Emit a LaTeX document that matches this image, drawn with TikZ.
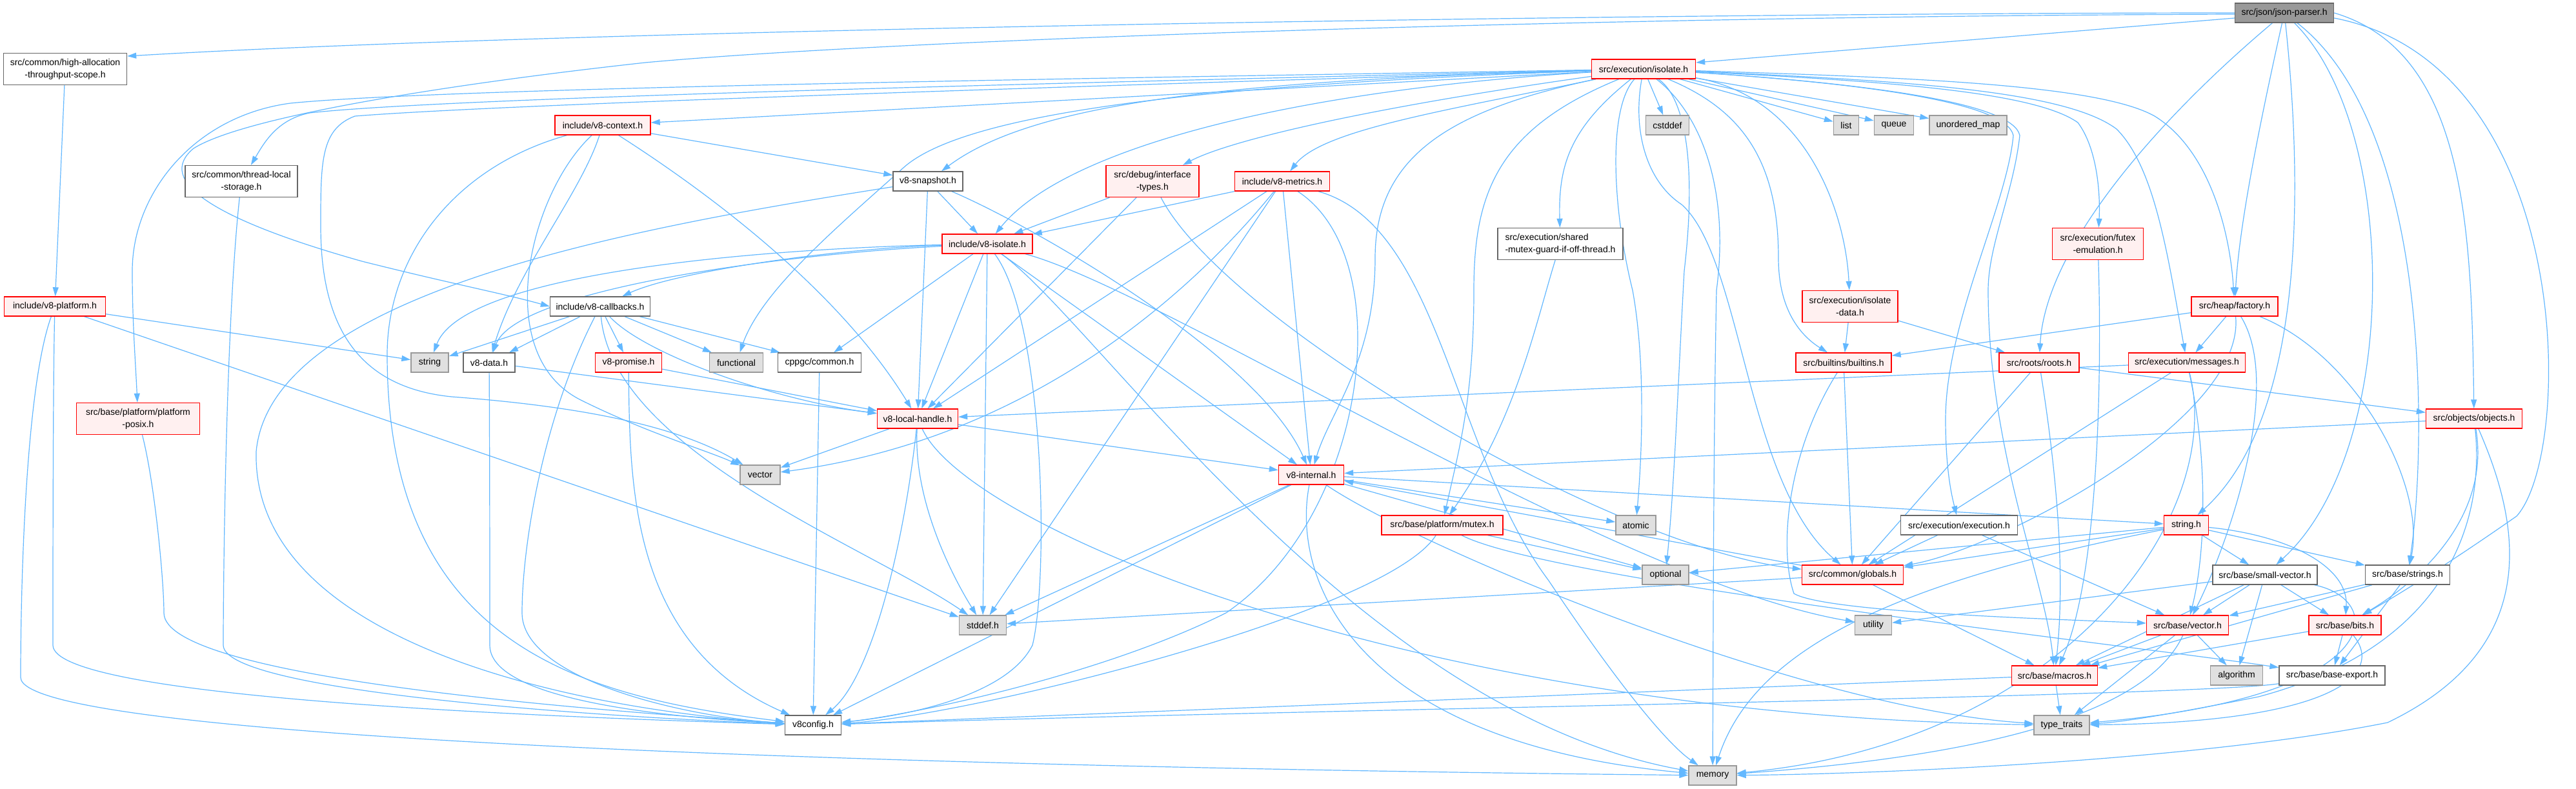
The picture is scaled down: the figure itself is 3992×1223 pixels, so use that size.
\documentclass[tikz,border=0pt]{standalone}
\usepackage{fontspec}
\setmainfont{Liberation Sans}
\usetikzlibrary{arrows.meta}
\definecolor{edgec}{HTML}{63B8FF}
\definecolor{redfill}{HTML}{FFF0F0}
\definecolor{redline}{HTML}{FF0000}
\definecolor{grayfill}{HTML}{E0E0E0}
\definecolor{grayline}{HTML}{999999}
\definecolor{whiteline}{HTML}{666666}
\definecolor{rootfill}{HTML}{999999}
\pgfdeclarelayer{bg}
\pgfdeclarelayer{edges}
\pgfsetlayers{bg,edges,main}
\tikzset{
  box/.style={draw, line width=1.4pt, inner sep=0pt, minimum height=30pt, font=\fontsize{14}{19}\selectfont, align=center},
  redn/.style={box, fill=redfill, draw=redline},
  grayn/.style={box, fill=grayfill, draw=grayline},
  whiten/.style={box, fill=white, draw=whiteline},
  rootn/.style={box, fill=rootfill, draw=whiteline},
  tall/.style={minimum height=49pt},
  e/.style={draw=edgec, line width=1.2pt, -{Triangle[length=14pt,width=9pt]}},
}
\begin{document}
\begin{tikzpicture}[x=1pt,y=-1pt]
\useasboundingbox (0,0) rectangle (3992,1223);
\begin{pgfonlayer}{bg}
\fill[white] (0,0) rectangle (3992,1223);
\end{pgfonlayer}
% nodes
\node[rootn, minimum width=153pt] (jp) at (3540,20) {src/json/json-parser.h};
\node[whiten, tall, minimum width=191pt] (hat) at (101,107) {src/common/high-allocation\\-throughput-scope.h};
\node[redn, minimum width=161pt] (iso) at (2547,107) {src/execution/isolate.h};
\node[redn, minimum width=148pt] (ctx) at (934,194) {include/v8-context.h};
\node[grayn, minimum width=67pt] (cstddef) at (2584,194) {cstddef};
\node[grayn, minimum width=39pt] (list) at (2861,194) {list};
\node[grayn, minimum width=61pt] (queue) at (2935,194) {queue};
\node[grayn, minimum width=120pt] (umap) at (3050,194) {unordered\_map};
\node[whiten, tall, minimum width=174pt] (tls) at (374,281) {src/common/thread-local\\-storage.h};
\node[whiten, minimum width=108pt] (snap) at (1438,281) {v8-snapshot.h};
\node[redn, tall, minimum width=144pt] (dbg) at (1786,281) {src/debug/interface\\-types.h};
\node[redn, minimum width=147pt] (met) at (1987,281) {include/v8-metrics.h};
\node[redn, minimum width=140pt] (viso) at (1530,378) {include/v8-isolate.h};
\node[whiten, tall, minimum width=194pt, align=left] (smg) at (2418,378) {src/execution/shared\\-mutex-guard-if-off-thread.h};
\node[redn, tall, minimum width=141pt] (futex) at (3251,378) {src/execution/futex\\-emulation.h};
\node[redn, minimum width=157pt] (plat) at (85,475) {include/v8-platform.h};
\node[whiten, minimum width=155pt] (cb) at (930,475) {include/v8-callbacks.h};
\node[redn, tall, minimum width=148pt] (isod) at (2867,475) {src/execution/isolate\\-data.h};
\node[redn, minimum width=134pt] (fac) at (3463,475) {src/heap/factory.h};
\node[grayn, minimum width=58pt] (string) at (666,562) {string};
\node[whiten, minimum width=80pt] (data) at (758,562) {v8-data.h};
\node[redn, minimum width=103pt] (prom) at (974,562) {v8-promise.h};
\node[grayn, minimum width=83pt] (func) at (1141,562) {functional};
\node[whiten, minimum width=129pt] (cppgc) at (1270,562) {cppgc/common.h};
\node[redn, minimum width=148pt] (blt) at (2857,562) {src/builtins/builtins.h};
\node[redn, minimum width=124pt] (roots) at (3160,562) {src/roots/roots.h};
\node[redn, minimum width=181pt] (msg) at (3389,562) {src/execution/messages.h};
\node[redn, tall, minimum width=191pt] (posix) at (214,649) {src/base/platform/platform\\-posix.h};
\node[redn, minimum width=125pt] (lh) at (1422,649) {v8-local-handle.h};
\node[redn, minimum width=149pt] (obj) at (3834,649) {src/objects/objects.h};
\node[grayn, minimum width=62pt] (vector) at (1178,736) {vector};
\node[redn, minimum width=101pt] (vi) at (2032,736) {v8-internal.h};
\node[redn, minimum width=188pt] (mutex) at (2235,814) {src/base/platform/mutex.h};
\node[grayn, minimum width=62pt] (atomic) at (2535,814) {atomic};
\node[whiten, minimum width=181pt] (exec) at (3036,814) {src/execution/execution.h};
\node[redn, minimum width=69pt] (strh) at (3388,814) {string.h};
\node[grayn, minimum width=72pt] (optional) at (2581,891) {optional};
\node[redn, minimum width=157pt] (glob) at (2871,891) {src/common/globals.h};
\node[whiten, minimum width=162pt] (sv) at (3510,891) {src/base/small-vector.h};
\node[whiten, minimum width=131pt] (strs) at (3731,891) {src/base/strings.h};
\node[grayn, minimum width=73pt] (stddef) at (1523,969) {stddef.h};
\node[grayn, minimum width=57pt] (utility) at (2903,969) {utility};
\node[redn, minimum width=127pt] (bvec) at (3390,969) {src/base/vector.h};
\node[redn, minimum width=112pt] (bits) at (3634,969) {src/base/bits.h};
\node[redn, minimum width=133pt] (mac) at (3184,1047) {src/base/macros.h};
\node[grayn, minimum width=81pt] (algo) at (3466,1047) {algorithm};
\node[whiten, minimum width=164pt] (bexp) at (3614,1047) {src/base/base-export.h};
\node[whiten, minimum width=87pt] (cfg) at (1260,1124) {v8config.h};
\node[grayn, minimum width=86pt] (tt) at (3195,1124) {type\_traits};
\node[grayn, minimum width=74pt] (mem) at (2654,1202) {memory};
\begin{pgfonlayer}{edges}
% edges from json-parser
\draw[e] (jp.west) .. controls (2600,20) and (900,45) .. ([yshift=20pt]hat.east);
\draw[e] ([yshift=-2pt]jp.west) .. controls (2500,25) and (1400,60) .. (1000,97) .. controls (700,130) and (380,180) .. (300,230) .. controls (240,280) and (330,340) .. (561,405) .. controls (700,440) and (780,455) .. (cb.west);
\draw[e] ([yshift=-8pt]jp.west) -- ([yshift=10pt]iso.east);
\draw[e] (jp) .. controls (3350,180) and (3170,380) .. (roots);
\draw[e] (jp) .. controls (3500,200) and (3470,350) .. (fac);
\draw[e] (jp) .. controls (3570,300) and (3570,650) .. (strh);
\draw[e] (jp) .. controls (3720,200) and (3720,700) .. (sv);
\draw[e] (jp) .. controls (3770,200) and (3760,700) .. (strs);
\draw[e] (jp.east) .. controls (3820,80) and (3830,350) .. (obj);
\draw[e] ([yshift=-8pt]jp.east) .. controls (3990,100) and (3990,700) .. (3900,800) .. controls (3800,870) and (3720,920) .. (bits);
% edges from isolate.h
\draw[e] (iso) -- (ctx);
\draw[e] (iso) .. controls (1800,125) and (700,150) .. (480,175) .. controls (430,185) and (410,220) .. (tls);
\draw[e] (iso) .. controls (1800,120) and (700,135) .. (450,160) .. controls (300,180) and (205,300) .. (205,420) .. controls (205,500) and (210,560) .. (posix);
\draw[e] (iso) .. controls (1800,130) and (800,160) .. (550,180) .. controls (497,200) and (497,250) .. (497,350) .. controls (497,500) and (550,600) .. (700,615) .. controls (900,630) and (1050,660) .. (vector);
\draw[e] (iso) .. controls (1900,125) and (1600,160) .. (snap);
\draw[e] (iso) .. controls (1900,130) and (1500,170) .. (1400,260) .. controls (1300,350) and (1180,450) .. (func);
\draw[e] (iso) .. controls (2000,140) and (1650,230) .. (viso);
\draw[e] (iso) .. controls (2100,170) and (1900,220) .. (dbg);
\draw[e] (iso) .. controls (2250,170) and (2050,200) .. (met);
\draw[e] (iso) .. controls (2430,200) and (2415,260) .. (smg);
\draw[e] (iso) .. controls (2250,170) and (2131,240) .. (2131,400) .. controls (2131,560) and (2060,640) .. (vi);
\draw[e] (iso) .. controls (2320,200) and (2284,300) .. (2284,450) .. controls (2284,620) and (2260,700) .. (mutex);
\draw[e] (iso) .. controls (2490,170) and (2500,330) .. (2530,450) .. controls (2550,560) and (2545,700) .. (atomic);
\draw[e] (iso) .. controls (2530,200) and (2550,280) .. (2606,317) .. controls (2700,400) and (2705,750) .. (glob);
\draw[e] (iso) .. controls (2610,150) and (2630,250) .. (2610,420) .. controls (2600,600) and (2595,750) .. (optional);
\draw[e] (iso) .. controls (2640,180) and (2680,300) .. (2660,450) .. controls (2655,700) and (2655,1000) .. (mem);
\draw[e] (iso) .. controls (2700,170) and (2756,250) .. (2756,400) .. controls (2756,480) and (2790,520) .. (blt);
\draw[e] (iso) .. controls (2800,150) and (2860,330) .. (isod);
\draw[e] (iso) -- (cstddef);
\draw[e] (iso) -- (list);
\draw[e] (iso) -- (queue);
\draw[e] (iso) -- (umap);
\draw[e] (iso) .. controls (2900,125) and (3150,140) .. (3220,190) .. controls (3250,230) and (3255,300) .. (futex);
\draw[e] (iso) .. controls (2950,120) and (3250,130) .. (3339,180) .. controls (3420,230) and (3455,350) .. (fac);
\draw[e] (iso) .. controls (2950,125) and (3200,140) .. (3280,200) .. controls (3340,260) and (3360,400) .. (msg);
\draw[e] (iso) .. controls (2900,130) and (3110,160) .. (3120,210) .. controls (3110,320) and (3015,500) .. (3015,650) .. controls (3015,730) and (3025,770) .. (exec);
\draw[e] (iso) .. controls (2900,130) and (3120,160) .. (3130,210) .. controls (3120,300) and (3081,380) .. (3081,450) .. controls (3081,700) and (3170,900) .. (mac);
% context
\draw[e] (ctx) -- (snap);
\draw[e] (ctx) .. controls (700,260) and (600,400) .. (600,550) .. controls (600,1000) and (900,1080) .. (cfg);
\draw[e] (ctx) .. controls (900,300) and (800,420) .. (data);
\draw[e] (ctx) .. controls (1100,300) and (1300,450) .. (lh);
\draw[e] (ctx) .. controls (820,300) and (760,550) .. (900,620) .. controls (1000,670) and (1100,700) .. (vector);
% misc left
\draw[e] (tls) .. controls (350,500) and (346,900) .. (346,1000) .. controls (346,1070) and (900,1110) .. (cfg);
\draw[e] (hat) -- (plat);
\draw[e] (plat) -- (string);
\draw[e] (plat) -- (stddef);
\draw[e] (plat) .. controls (82,600) and (82,900) .. (82,1000) .. controls (82,1080) and (800,1110) .. (cfg);
\draw[e] (plat) .. controls (40,600) and (32,900) .. (32,1050) .. controls (32,1150) and (1500,1190) .. (mem);
\draw[e] (posix) .. controls (240,750) and (254,900) .. (254,950) .. controls (254,1050) and (900,1100) .. (cfg);
% snapshot
\draw[e] (snap) -- (viso);
\draw[e] (snap) -- (lh);
\draw[e] (snap) .. controls (1600,350) and (1950,550) .. (vi);
\draw[e] (snap) .. controls (1000,350) and (420,450) .. (397,700) .. controls (390,1000) and (900,1100) .. (cfg);
% debug
\draw[e] (dbg) -- (viso);
\draw[e] (dbg) -- (lh);
\draw[e] (dbg) .. controls (1900,500) and (2500,850) .. (glob);
% metrics
\draw[e] (met) -- (viso);
\draw[e] (met) -- (lh);
\draw[e] (met) -- (vi);
\draw[e] (met) -- (stddef);
\draw[e] (met) .. controls (1850,450) and (1600,680) .. (vector);
\draw[e] (met) .. controls (2170,400) and (2120,800) .. (1900,950) .. controls (1700,1050) and (1400,1110) .. (cfg);
\draw[e] (met) .. controls (2233,350) and (2250,700) .. (2400,900) .. controls (2500,1050) and (2580,1150) .. (mem);
% v8-isolate
\draw[e] (viso) .. controls (1300,385) and (1050,420) .. (cb);
\draw[e] (viso) .. controls (1200,385) and (720,420) .. (string);
\draw[e] (viso) .. controls (1200,395) and (800,450) .. (data);
\draw[e] (viso) -- (cppgc);
\draw[e] (viso) -- (lh);
\draw[e] (viso) -- (stddef);
\draw[e] (viso) -- (vi);
\draw[e] (viso) .. controls (1620,500) and (1625,900) .. (1600,1000) .. controls (1560,1080) and (1400,1110) .. (cfg);
\draw[e] (viso) .. controls (1700,500) and (2100,1100) .. (mem);
\draw[e] (viso) .. controls (1800,450) and (2500,900) .. (utility);
% callbacks
\draw[e] (cb) -- (string);
\draw[e] (cb) -- (data);
\draw[e] (cb) -- (prom);
\draw[e] (cb) -- (func);
\draw[e] (cb) -- (cppgc);
\draw[e] (cb) .. controls (1000,550) and (1200,620) .. (lh);
\draw[e] (cb) .. controls (950,700) and (1350,850) .. (stddef);
\draw[e] (cb) .. controls (840,650) and (809,850) .. (809,950) .. controls (809,1050) and (1050,1110) .. (cfg);
\draw[e] (data) -- (lh);
\draw[e] (data) .. controls (759,700) and (759,950) .. (759,1000) .. controls (759,1080) and (1000,1110) .. (cfg);
\draw[e] (prom) -- (lh);
\draw[e] (prom) .. controls (976,750) and (976,1000) .. (cfg);
\draw[e] (cppgc) -- (cfg);
% local handle
\draw[e] (lh) -- (vector);
\draw[e] (lh) -- (vi);
\draw[e] (lh) .. controls (1415,780) and (1480,900) .. (stddef);
\draw[e] (lh) .. controls (1500,820) and (2200,1110) .. (tt);
\draw[e] (lh) .. controls (1400,850) and (1350,1050) .. (cfg);
% v8-internal
\draw[e] (vi) -- (atomic);
\draw[e] (vi) -- (strh);
\draw[e] (vi) -- (optional);
\draw[e] (vi) -- (stddef);
\draw[e] (vi) -- (cfg);
\draw[e] (vi) .. controls (2000,900) and (2100,1150) .. (mem);
\draw[e] (vi) .. controls (2200,850) and (2800,1100) .. (tt);
% mutex and shared
\draw[e] (smg) .. controls (2380,500) and (2350,650) .. (mutex);
\draw[e] (mutex) -- (optional);
\draw[e] (mutex) .. controls (2150,950) and (1500,1110) .. (cfg);
\draw[e] (mutex) .. controls (2400,900) and (3300,1000) .. (bexp);
% execution
\draw[e] (exec) -- (glob);
\draw[e] (exec) -- (bvec);
% string.h
\draw[e] (strh) -- (glob);
\draw[e] (strh) -- (optional);
\draw[e] (strh) .. controls (2950,900) and (2720,1000) .. (mem);
\draw[e] (strh) -- (sv);
\draw[e] (strh) -- (strs);
\draw[e] (strh) .. controls (3550,830) and (3640,880) .. (bits);
% globals
\draw[e] (glob) -- (vi);
\draw[e] (glob) -- (stddef);
\draw[e] (glob) -- (mac);
% isolate-data, builtins, factory, roots, messages, futex
\draw[e] (isod) -- (blt);
\draw[e] (isod) -- (roots);
\draw[e] (blt) -- (glob);
\draw[e] (blt) .. controls (2770,700) and (2756,850) .. (2780,920) .. controls (2830,950) and (3200,960) .. (bvec);
\draw[e] (fac) -- (blt);
\draw[e] (fac) -- (msg);
\draw[e] (fac) .. controls (3480,650) and (3100,850) .. (glob);
\draw[e] (fac) .. controls (3540,600) and (3450,850) .. (bvec);
\draw[e] (fac) .. controls (3650,550) and (3760,750) .. (strs);
\draw[e] (roots) -- (obj);
\draw[e] (roots) .. controls (3190,750) and (3200,900) .. (mac);
\draw[e] (roots) -- (glob);
\draw[e] (msg) -- (lh);
\draw[e] (msg) .. controls (3420,700) and (3420,850) .. (bvec);
\draw[e] (msg) .. controls (3450,800) and (3200,1150) .. (mem);
\draw[e] (msg) -- (glob);
\draw[e] (futex) .. controls (3258,600) and (3250,900) .. (mac);
% objects
\draw[e] (obj) -- (vi);
\draw[e] (obj) .. controls (3900,800) and (3950,1000) .. (3700,1120) .. controls (3400,1180) and (2900,1200) .. (mem);
\draw[e] (obj) .. controls (3850,800) and (3800,1000) .. (3500,1080) .. controls (3350,1110) and (3280,1120) .. (tt);
\draw[e] (obj) .. controls (3860,800) and (3750,900) .. (bits);
% base
\draw[e] (sv) -- (algo);
\draw[e] (sv) .. controls (3700,930) and (3700,1080) .. (tt);
\draw[e] (sv) -- (utility);
\draw[e] (sv) -- (bits);
\draw[e] (sv) -- (mac);
\draw[e] (sv) -- (bvec);
\draw[e] (strs) -- (bvec);
\draw[e] (strs) -- (mac);
\draw[e] (strs) -- (bexp);
\draw[e] (bvec) -- (algo);
\draw[e] (bvec) -- (mac);
\draw[e] (bvec) -- (tt);
\draw[e] (bvec) .. controls (3330,1100) and (3100,1170) .. (mem);
\draw[e] (bits) -- (bexp);
\draw[e] (bits) -- (mac);
\draw[e] (bits) .. controls (3700,1050) and (3600,1120) .. (tt);
\draw[e] (mac) -- (tt);
\draw[e] (mac) -- (cfg);
\draw[e] (bexp) .. controls (3400,1080) and (2000,1100) .. (cfg);
\end{pgfonlayer}
\end{tikzpicture}
\end{document}
